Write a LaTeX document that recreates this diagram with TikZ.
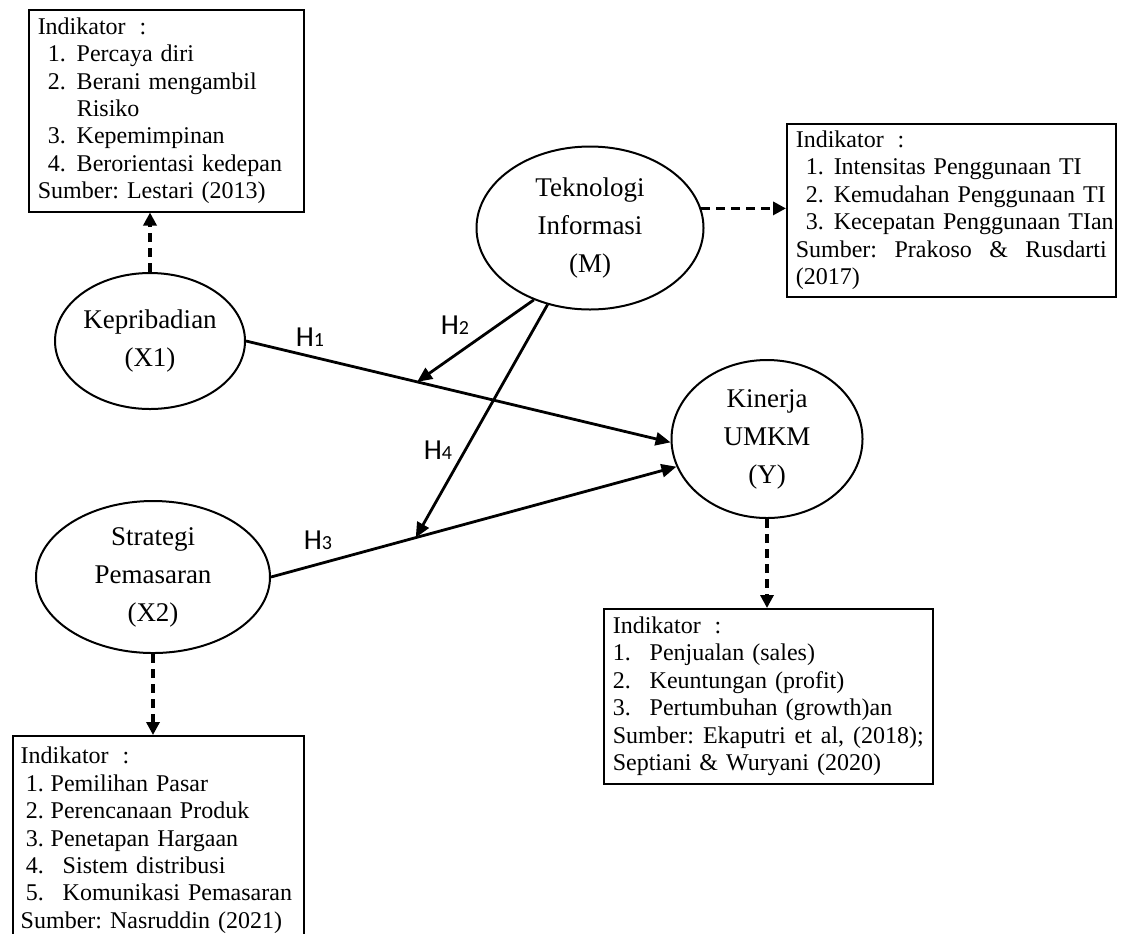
\documentclass[tikz,border=0pt]{standalone}
\usepackage{fontspec}
\setmainfont{Liberation Serif}
\newfontfamily\hypfont{Carlito}
\usepackage{xcolor}
\usetikzlibrary{arrows.meta, shapes.geometric, positioning, calc}

\tikzset{
  %% -- latent variable (ellipse) --
  FW/var/.style={
    draw, ellipse, line width=1pt, inner sep=0pt,
    align=center, font=\fontsize{13.5}{19}\selectfont
  },
  %% -- indicator box --
  FW/ind/.style={
    draw, line width=0.75pt, anchor=north west,
    inner xsep=4.5pt, inner ysep=1pt,
    align=left, font=\fontsize{12}{13.7}\selectfont
  },
  %% -- hypothesis path --
  FW/hyp/.style={-{Triangle[length=7.5pt, width=6.5pt]}, line width=1.4pt},
  %% -- variable -> indicator link --
  FW/ref/.style={-{Triangle[length=6.5pt, width=6.5pt]}, line width=1.8pt,
    dash pattern=on 4.5pt off 3pt},
  %% -- hypothesis label --
  FW/hl/.style={font=\hypfont\fontsize{14.5}{14.5}\selectfont, inner sep=0pt},
}
%% indent, number width, number
\newcommand{\indnum}[3]{\hspace*{#1}\makebox[#2][l]{#3}}
\newcommand{\hsub}[1]{{\fontsize{10}{10}\selectfont #1}}
\newcommand{\indhead}{Indikator\hspace{7pt}:}

\begin{document}
\frenchspacing
\begin{tikzpicture}[x=0.5pt, y=-0.5pt]
\useasboundingbox (0,0) rectangle (1122,933);
\clip (0,0) rectangle (1122,933);

%% ── Variables ────────────────────────────────────────────────
\node[FW/var, minimum width=95pt, minimum height=68pt] (X1) at (150,341)
  {Kepribadian\\(X1)};
\node[FW/var, minimum width=113.5pt, minimum height=81.5pt] (M) at (590,228)
  {Teknologi\\Informasi\\(M)};
\node[FW/var, minimum width=95.5pt, minimum height=79pt] (Y) at (767,439)
  {Kinerja\\UMKM\\(Y)};
\node[FW/var, minimum width=117pt, minimum height=76pt] (X2) at (153,577)
  {Strategi\\Pemasaran\\(X2)};

%% ── Indicator boxes ──────────────────────────────────────────
\node[FW/ind, text width=128.5pt, minimum height=101pt] (B1) at (28,9)
  {\indhead\\
   \indnum{5pt}{14.5pt}{1.}Percaya diri\\
   \indnum{5pt}{14.5pt}{2.}Berani mengambil\\
   \hspace*{19.5pt}Risiko\\
   \indnum{5pt}{14.5pt}{3.}Kepemimpinan\\
   \indnum{5pt}{14.5pt}{4.}Berorientasi kedepan\\
   Sumber: Lestari (2013)};
\node[FW/ind, text width=155.5pt, minimum height=86.5pt] (B2) at (786,123)
  {\indhead\\
   \indnum{5pt}{14pt}{1.}Intensitas Penggunaan TI\\
   \indnum{5pt}{14pt}{2.}Kemudahan Penggunaan TI\\
   \mbox{\indnum{5pt}{14pt}{3.}Kecepatan Penggunaan TIan}\\
   \makebox[\hsize][s]{Sumber:\hfill Prakoso\hfill \&\hfill Rusdarti}\\
   (2017)};
\node[FW/ind, text width=155.5pt, minimum height=87.5pt] (B3) at (603,608)
  {\indhead\\
   \indnum{0pt}{18.5pt}{1.}Penjualan (sales)\\
   \indnum{0pt}{18.5pt}{2.}Keuntungan (profit)\\
   \indnum{0pt}{18.5pt}{3.}Pertumbuhan (growth)an\\
   \makebox[\hsize][s]{Sumber:\hfill Ekaputri\hfill et\hfill al,\hfill (2018);}\\
   Septiani \& Wuryani (2020)};
\node[FW/ind, text width=137.5pt, inner xsep=4pt, minimum height=104.5pt] (B4) at (12,735)
  {\indhead\\
   \indnum{2.5pt}{12.5pt}{1.}Pemilihan Pasar\\
   \indnum{2.5pt}{12.5pt}{2.}Perencanaan Produk\\
   \indnum{2.5pt}{12.5pt}{3.}Penetapan Hargaan\\
   \indnum{2.5pt}{18.5pt}{4.}Sistem distribusi\\
   \mbox{\indnum{2.5pt}{18.5pt}{5.}Komunikasi Pemasaran}\\
   Sumber: Nasruddin (2021)};

%% ── Hypothesis paths ─────────────────────────────────────────
%% H1: X1 -> Y,  H3: X2 -> Y
\draw[FW/hyp] (X1.east) -- (Y.182);
\draw[FW/hyp] (X2.east) -- (Y.197);
%% H2 / H4: moderation by M onto H1 and H3
\coordinate (h2end) at ($(X1.east)!0.403!(Y.182)$);
\coordinate (h4end) at ($(X2.east)!0.357!(Y.197)$);
\draw[FW/hyp] (M.232) -- (h2end);
\draw[FW/hyp] (M.241) -- (h4end);

\node[FW/hl] (lH1) at (310,337) {H\hsub{1}};
\node[FW/hl] (lH2) at (455,325) {H\hsub{2}};
\node[FW/hl] (lH3) at (318,540) {H\hsub{3}};
\node[FW/hl] (lH4) at (438,450) {H\hsub{4}};

%% ── Indicator links (dashed) ─────────────────────────────────
\draw[FW/ref] (X1.north) -- (X1.north |- B1.south);
\draw[FW/ref] (M.10) -- (M.10 -| B2.west);
\draw[FW/ref] (Y.south) -- (Y.south |- B3.north);
\draw[FW/ref] (X2.south) -- (X2.south |- B4.north);

\end{tikzpicture}
\end{document}
